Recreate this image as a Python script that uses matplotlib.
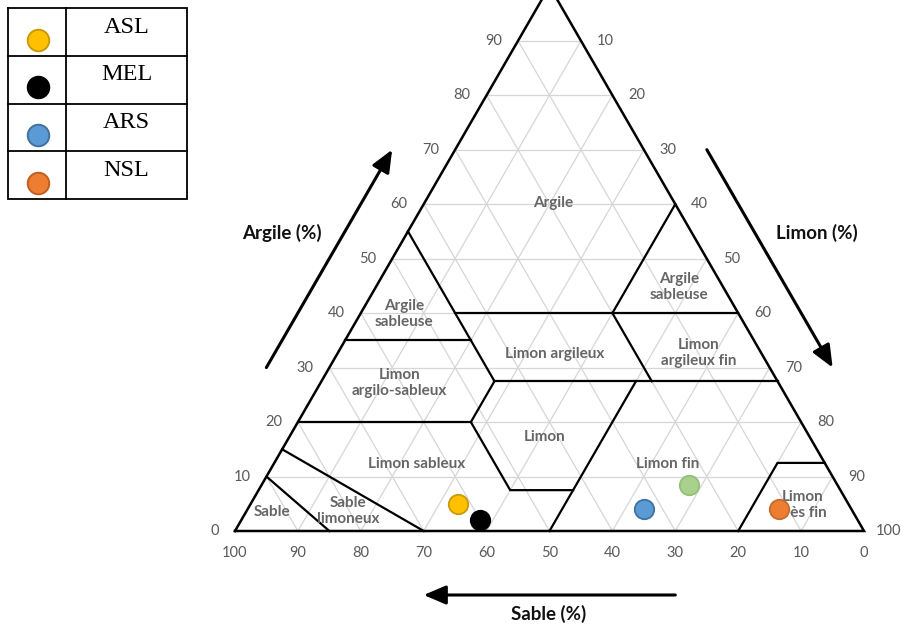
import numpy as np
import matplotlib
matplotlib.use("Agg")
import matplotlib.pyplot as plt
from matplotlib.patches import FancyArrowPatch

# ---------------- data ----------------
legend_names = ["ASL", "MEL", "ARS", "NSL"]
legend_colors = ["#FFC000", "#000000", "#5B9BD5", "#ED7D31"]
legend_edges = ["#C99A06", "#000000", "#41719C", "#C05F22"]

sample_names = ["ASL", "MEL", "ARS", "NSL", "autre"]
sample_sand = [62, 60, 33, 11.5, 23.5]
sample_clay = [5, 2, 4, 4, 8.5]
sample_silt = [33, 38, 63, 84.5, 68]
sample_colors = ["#FFC000", "#000000", "#5B9BD5", "#ED7D31", "#A9D18E"]
sample_edges = ["#C99A06", "#000000", "#41719C", "#C96A2A", "#93BF78"]

# class boundaries, as (sand %, clay %) polylines
boundary_lines = [
    [(90, 10), (85, 0)],
    [(85, 15), (70, 0)],
    [(80, 20), (52.5, 20)],
    [(65, 35), (45, 35)],
    [(45, 55), (45, 27.5), (52.5, 20), (52.5, 7.5), (42.5, 7.5)],
    [(50, 0), (22.5, 27.5)],
    [(45, 27.5), (0, 27.5)],
    [(45, 40), (0, 40)],
    [(0, 60), (20, 40), (20, 27.5)],
    [(20, 0), (7.5, 12.5), (0, 12.5)],
]

class_names = ["Argile", "Argile\nsableuse", "Argile\nsableuse", "Limon argileux",
               "Limon\nargileux fin", "Limon\nargilo-sableux", "Limon",
               "Limon sableux", "Limon fin", "Sable", "Sable\nlimoneux",
               "Limon\ntrès fin"]
class_sand = [19.3, 53.2, 7.0, 33.0, 10.0, 60.2, 42.1, 65.0, 25.1, 92.4, 80.2, 7.3]
class_clay = [60.2, 39.8, 44.8, 32.5, 32.7, 27.2, 17.3, 12.3, 12.3, 3.5, 3.7, 4.8]

clay_ticks = [0, 10, 20, 30, 40, 50, 60, 70, 80, 90]
silt_ticks = [10, 20, 30, 40, 50, 60, 70, 80, 90, 100]
sand_ticks = [100, 90, 80, 70, 60, 50, 40, 30, 20, 10, 0]
grid_steps = [10, 20, 30, 40, 50, 60, 70, 80, 90]

# ---------------- helpers ----------------
H = np.sqrt(3) / 2


def tern(sand, clay):
    sand = np.asarray(sand, dtype=float)
    clay = np.asarray(clay, dtype=float)
    return 100 - sand - clay / 2, clay * H


FONT = ["Lato", "DejaVu Sans"]
TICK_C = "#595959"
CLASS_C = "#666666"

W, Hpx = 902, 625
scale = 6.29  # px per unit
x0px, y0px = 235, 531

fig = plt.figure(figsize=(W / 100, Hpx / 100), dpi=100)
ax = fig.add_axes([0, 0, 1, 1])
ax.set_xlim(-x0px / scale, (W - x0px) / scale)
ax.set_ylim(-(Hpx - y0px) / scale, y0px / scale)
ax.set_axis_off()

# grid
for g in grid_steps:
    x, y = tern([100 - g, 0], [g, g])          # clay = g
    ax.plot(x, y, color="#d6d6d6", lw=0.9, zorder=1)
    x, y = tern([g, g], [0, 100 - g])          # sand = g
    ax.plot(x, y, color="#d6d6d6", lw=0.9, zorder=1)
    x, y = tern([100 - g, 0], [0, 100 - g])    # silt = g
    ax.plot(x, y, color="#d6d6d6", lw=0.9, zorder=1)

# triangle
x, y = tern([100, 0, 0, 100], [0, 0, 100, 0])
ax.plot(x, y, color="black", lw=1.8, zorder=3, solid_joinstyle="miter")

# class boundaries
for line in boundary_lines:
    s = [p[0] for p in line]
    c = [p[1] for p in line]
    x, y = tern(s, c)
    ax.plot(x, y, color="black", lw=1.6, zorder=3, solid_joinstyle="miter")

# class labels
for name, s, c in zip(class_names, class_sand, class_clay):
    x, y = tern(s, c)
    ax.text(x, y, name, ha="center", va="center", fontsize=11,
            fontweight="bold", color=CLASS_C, family=FONT, linespacing=1.2,
            zorder=4)

# tick labels
for c in clay_ticks:
    x, y = tern(100 - c, c)
    ax.annotate(str(c), (x, y), xytext=(-16, 0), textcoords="offset pixels",
                ha="right", va="center", fontsize=10.5, color=TICK_C, family=FONT)
for l in silt_ticks:
    x, y = tern(0, 100 - l)
    dx = 16 if l < 100 else 12
    ax.annotate(str(l), (x, y), xytext=(dx, 0), textcoords="offset pixels",
                ha="left", va="center", fontsize=10.5, color=TICK_C, family=FONT)
for s in sand_ticks:
    x, y = tern(s, 0)
    ax.annotate(str(s), (x, y), xytext=(0, -22), textcoords="offset pixels",
                ha="center", va="center", fontsize=10.5, color=TICK_C, family=FONT)

# samples
for s, c, col, ec in zip(sample_sand, sample_clay, sample_colors, sample_edges):
    x, y = tern(s, c)
    ax.plot(x, y, "o", ms=14, mfc=col, mec=ec, mew=1.3, zorder=5)

# direction arrows
off = 63 / scale
arrow_kw = dict(arrowstyle="-|>,head_length=0.75,head_width=0.32",
                mutation_scale=18, color="black", lw=2.2,
                shrinkA=0, shrinkB=0, zorder=4)
xa, ya = tern([70, 30], [30, 70])
ax.add_patch(FancyArrowPatch((xa[0] - off, ya[0]), (xa[1] - off, ya[1]), **arrow_kw))
xb, yb = tern([0, 0], [70, 30])
ax.add_patch(FancyArrowPatch((xb[0] + off, yb[0]), (xb[1] + off, yb[1]), **arrow_kw))
xc, yc = tern([30, 70], [0, 0])
ax.add_patch(FancyArrowPatch((xc[0], yc[0] - 64 / scale), (xc[1], yc[1] - 64 / scale), **arrow_kw))

# axis titles
title_kw = dict(ha="center", va="center", fontsize=13.5, fontweight="bold",
                color="#111111", family=FONT)
ax.text((281.7 - x0px) / scale, (y0px - 233.3) / scale, "Argile (%)", **title_kw)
ax.text((816.7 - x0px) / scale, (y0px - 233.3) / scale, "Limon (%)", **title_kw)
ax.text((549 - x0px) / scale, (y0px - 614) / scale, "Sable (%)", **title_kw)

# legend table
lax = fig.add_axes([8 / W, 1 - 199 / Hpx, (187 - 8) / W, (199 - 8) / Hpx])
lax.set_xlim(0, 1)
lax.set_ylim(len(legend_names), 0)
lax.set_axis_off()
n = len(legend_names)
lax.plot([0, 1, 1, 0, 0], [0, 0, n, n, 0], color="black", lw=1.3, clip_on=False,
         solid_joinstyle="miter")
lax.plot([0.324, 0.324], [0, n], color="black", lw=1.3, clip_on=False)
for i in range(1, n):
    lax.plot([0, 1], [i, i], color="black", lw=1.3, clip_on=False)
for i, (name, col, ec) in enumerate(zip(legend_names, legend_colors, legend_edges)):
    lax.plot(0.166, i + 0.66, "o", ms=15.5, mfc=col, mec=ec, mew=1.4, clip_on=False)
    lax.text(0.662, i + 0.40, name, ha="center", va="center", fontsize=17.5,
             family=["Liberation Serif", "DejaVu Serif"], color="black")

fig.savefig("out.png", dpi=100)
